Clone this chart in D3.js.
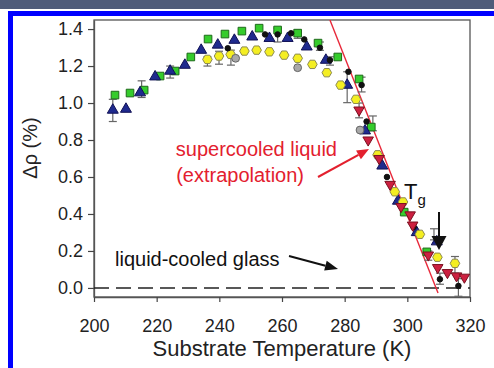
<!DOCTYPE html>
<html>
<head>
<meta charset="utf-8">
<script src="https://cdn.jsdelivr.net/npm/d3@7"></script>
<style>
  body { margin: 0; background: #fff; }
  svg text { font-family: "Liberation Sans", Arial, sans-serif; }
</style>
</head>
<body>
<div id="chart"></div>
<script>
// readings: T (K) and delta rho (%)
var greenT   = [206.7, 211.5, 216.0, 221.1, 225.9, 230.9, 236.4, 241.8, 247.2, 252.7, 258.6, 265.0, 271.5, 277.8, 284.6, 288.5, 299.0, 306.2];
var greenRho = [1.043, 1.054, 1.070, 1.146, 1.173, 1.249, 1.346, 1.373, 1.389, 1.405, 1.395, 1.378, 1.324, 1.249, 1.130, 0.870, 0.410, 0.195];

var blueT   = [206.0, 210.2, 214.7, 219.5, 224.3, 229.0, 234.2, 239.5, 244.8, 250.5, 256.0, 261.8, 267.9, 274.0, 280.8, 286.5, 292.0, 297.0, 303.0, 309.4];
var blueRho = [0.962, 0.967, 1.056, 1.142, 1.173, 1.205, 1.286, 1.314, 1.340, 1.358, 1.350, 1.350, 1.304, 1.232, 1.097, 0.850, 0.660, 0.470, 0.300, 0.250];

var yellowT   = [236.2, 239.9, 243.6, 248.0, 251.9, 256.0, 260.7, 265.0, 269.7, 274.3, 278.7, 283.6, 290.5, 296.0, 298.6, 304.0, 309.6, 315.2];
var yellowRho = [1.236, 1.254, 1.263, 1.281, 1.286, 1.277, 1.259, 1.242, 1.209, 1.164, 1.097, 1.020, 0.720, 0.520, 0.465, 0.290, 0.166, 0.133];

var grayT   = [245.2, 265.0, 284.9];
var grayRho = [1.242, 1.191, 0.854];

var blackT   = [242.7, 254.6, 258.6, 262.9, 267.1, 272.1, 275.3, 281.2, 285.4, 287.0, 293.5, 302.0, 310.4, 316.3];
var blackRho = [1.296, 1.371, 1.371, 1.377, 1.344, 1.299, 1.232, 1.169, 1.097, 0.900, 0.600, 0.330, 0.047, 0.011];

var redT   = [284.6, 287.5, 291.0, 294.5, 298.0, 300.9, 301.7, 306.7, 309.7, 312.8, 315.7, 318.2];
var redRho = [0.962, 0.800, 0.700, 0.560, 0.440, 0.395, 0.340, 0.178, 0.110, 0.083, 0.065, 0.058];

// error bars: T, low, high
var errT    = [206.0, 215.2, 224.3, 236.2, 239.9, 243.7, 258.6, 265.0, 272.1, 275.3, 280.8, 285.4, 284.6, 289.0, 308.5, 306.7, 310.4, 315.2, 316.3];
var errLow  = [0.900, 1.030, 1.135, 1.200, 1.210, 1.205, 1.330, 1.350, 1.285, 1.205, 1.002, 1.060, 0.920, 0.850, 0.260, 0.150, 0.020, 0.080, -0.045];
var errHigh = [1.020, 1.120, 1.200, 1.250, 1.280, 1.286, 1.405, 1.395, 1.330, 1.250, 1.169, 1.140, 1.000, 0.930, 0.320, 0.200, 0.080, 0.170, 0.050];

// supercooled liquid extrapolation line
var lineT   = [275.3, 309.8];
var lineRho = [1.449, -0.027];

var xTicks = [200, 220, 240, 260, 280, 300, 320];
var yTicks = [0, 0.2, 0.4, 0.6, 0.8, 1.0, 1.2, 1.4];

var width = 494, height = 368;

var svg = d3.select('#chart')
    .append('svg')
    .attr('width', width)
    .attr('height', height);

// page frame bits
svg.append('rect').attr('x', 0).attr('y', 0).attr('width', width).attr('height', 9).attr('fill', '#4e5b7a');
svg.append('rect').attr('x', 8).attr('y', 11).attr('width', width - 8).attr('height', 5).attr('fill', '#0000ff');
svg.append('rect').attr('x', 8).attr('y', 11).attr('width', 5).attr('height', height - 11).attr('fill', '#0000ff');

var x = d3.scaleLinear().domain([200, 320]).range([94, 470]);
var y = d3.scaleLinear().domain([-0.049, 1.449]).range([297, 20]);

svg.append('defs').append('clipPath').attr('id', 'clip')
    .append('rect').attr('x', 94).attr('y', 20).attr('width', 376).attr('height', 277);

// box
svg.append('rect')
    .attr('x', 94).attr('y', 20).attr('width', 376).attr('height', 277)
    .attr('fill', 'none').attr('stroke', '#555').attr('stroke-width', 1.3);

var xAxis = svg.append('g')
    .attr('transform', 'translate(0,297)')
    .call(d3.axisBottom(x).tickValues(xTicks).tickSize(5).tickPadding(17).tickSizeOuter(0));
xAxis.selectAll('text').attr('font-size', 18).attr('fill', '#222');

var yAxis = svg.append('g')
    .attr('transform', 'translate(94,0)')
    .call(d3.axisLeft(y).tickValues(yTicks).tickSize(6).tickPadding(5).tickSizeOuter(0).tickFormat(d3.format('.1f')));
yAxis.selectAll('text').attr('font-size', 18).attr('fill', '#222');

svg.selectAll('.domain').attr('stroke', '#555').attr('stroke-width', 1.3);
svg.selectAll('.tick line').attr('stroke', '#444').attr('stroke-width', 1.2);

svg.append('text')
    .attr('x', 282).attr('y', 356)
    .attr('text-anchor', 'middle')
    .attr('font-size', 22).attr('fill', '#222')
    .text('Substrate Temperature (K)');

svg.append('text')
    .attr('transform', 'translate(37,148) rotate(-90)')
    .attr('text-anchor', 'middle')
    .attr('font-size', 20).attr('fill', '#222')
    .text('Δρ (%)');

var plot = svg.append('g').attr('clip-path', 'url(#clip)');

// dashed glass line at zero
plot.append('line')
    .attr('x1', x(200)).attr('x2', x(320))
    .attr('y1', y(0)).attr('y2', y(0))
    .attr('stroke', '#222').attr('stroke-width', 1.5)
    .attr('stroke-dasharray', '15,7');

// extrapolation line
plot.append('line')
    .attr('x1', x(lineT[0])).attr('y1', y(lineRho[0]))
    .attr('x2', x(lineT[1])).attr('y2', y(lineRho[1]))
    .attr('stroke', '#e8283a').attr('stroke-width', 1.4);

// error bars
var errs = errT.map((t, i) => ({t: t, lo: errLow[i], hi: errHigh[i]}));
var eb = plot.append('g').attr('stroke', '#666').attr('stroke-width', 1.2);
eb.selectAll('line.v').data(errs).enter().append('line')
    .attr('x1', d => x(d.t)).attr('x2', d => x(d.t))
    .attr('y1', d => y(d.lo)).attr('y2', d => y(d.hi));
eb.selectAll('line.lo').data(errs).enter().append('line')
    .attr('x1', d => x(d.t) - 4).attr('x2', d => x(d.t) + 4)
    .attr('y1', d => y(d.lo)).attr('y2', d => y(d.lo));
eb.selectAll('line.hi').data(errs).enter().append('line')
    .attr('x1', d => x(d.t) - 4).attr('x2', d => x(d.t) + 4)
    .attr('y1', d => y(d.hi)).attr('y2', d => y(d.hi));

var hexagon = {
    draw: function(ctx, size) {
        var r = Math.sqrt(size / 2.598);
        for (var k = 0; k < 6; k++) {
            var a = Math.PI / 3 * k;
            if (k == 0) ctx.moveTo(r * Math.cos(a), r * Math.sin(a));
            else ctx.lineTo(r * Math.cos(a), r * Math.sin(a));
        }
        ctx.closePath();
    }
};

var drawSeries = function(ts, rhos, type, size, fill, stroke, rot) {
    var pts = ts.map((t, i) => ({t: t, r: rhos[i]}));
    plot.append('g').selectAll('path')
        .data(pts)
        .enter()
        .append('path')
        .attr('d', d3.symbol().type(type).size(size))
        .attr('transform', d => 'translate(' + x(d.t) + ',' + y(d.r) + ')' + (rot ? ' rotate(180)' : ''))
        .attr('fill', fill)
        .attr('stroke', stroke)
        .attr('stroke-width', 1);
};

drawSeries(greenT, greenRho, d3.symbolSquare, 58, '#35cc2c', '#1e6a1a', false);
drawSeries(blueT, blueRho, d3.symbolTriangle, 52, '#1f2a8e', '#111155', false);
drawSeries(yellowT, yellowRho, hexagon, 60, '#f4ee22', '#8c8a50', false);
drawSeries(grayT, grayRho, d3.symbolCircle, 48, '#a8a8a8', '#666', false);
drawSeries(blackT, blackRho, d3.symbolCircle, 24, '#111', '#111', false);
drawSeries(redT, redRho, d3.symbolTriangle, 48, '#cc2040', '#7a1020', true);

// annotations
var arrow = function(x1, y1, x2, y2, color, headLen, headW) {
    var ang = Math.atan2(y2 - y1, x2 - x1);
    var bx = x2 - headLen * Math.cos(ang), by = y2 - headLen * Math.sin(ang);
    svg.append('line')
        .attr('x1', x1).attr('y1', y1).attr('x2', bx).attr('y2', by)
        .attr('stroke', color).attr('stroke-width', 2);
    var px = -Math.sin(ang) * headW / 2, py = Math.cos(ang) * headW / 2;
    svg.append('path')
        .attr('d', 'M' + x2 + ',' + y2 + 'L' + (bx + px) + ',' + (by + py) + 'L' + (bx - px) + ',' + (by - py) + 'Z')
        .attr('fill', color);
};

svg.append('text')
    .attr('x', 337).attr('y', 156).attr('text-anchor', 'end')
    .attr('font-size', 20).attr('fill', '#e3202e')
    .text('supercooled liquid');
svg.append('text')
    .attr('x', 304).attr('y', 182).attr('text-anchor', 'end')
    .attr('font-size', 20).attr('fill', '#e3202e')
    .text('(extrapolation)');
arrow(318, 177, 369, 149, '#e3202e', 12, 10);

svg.append('text')
    .attr('x', 115).attr('y', 266)
    .attr('font-size', 20).attr('fill', '#111')
    .text('liquid-cooled glass');
arrow(289, 256, 338, 269, '#111', 13, 10);

var tg = svg.append('text')
    .attr('x', 404).attr('y', 199)
    .attr('font-size', 22).attr('fill', '#111');
tg.append('tspan').text('T');
tg.append('tspan').attr('font-size', 15).attr('dy', 6).text('g');
arrow(439, 212, 439, 250, '#111', 14, 15);
</script>
</body>
</html>
